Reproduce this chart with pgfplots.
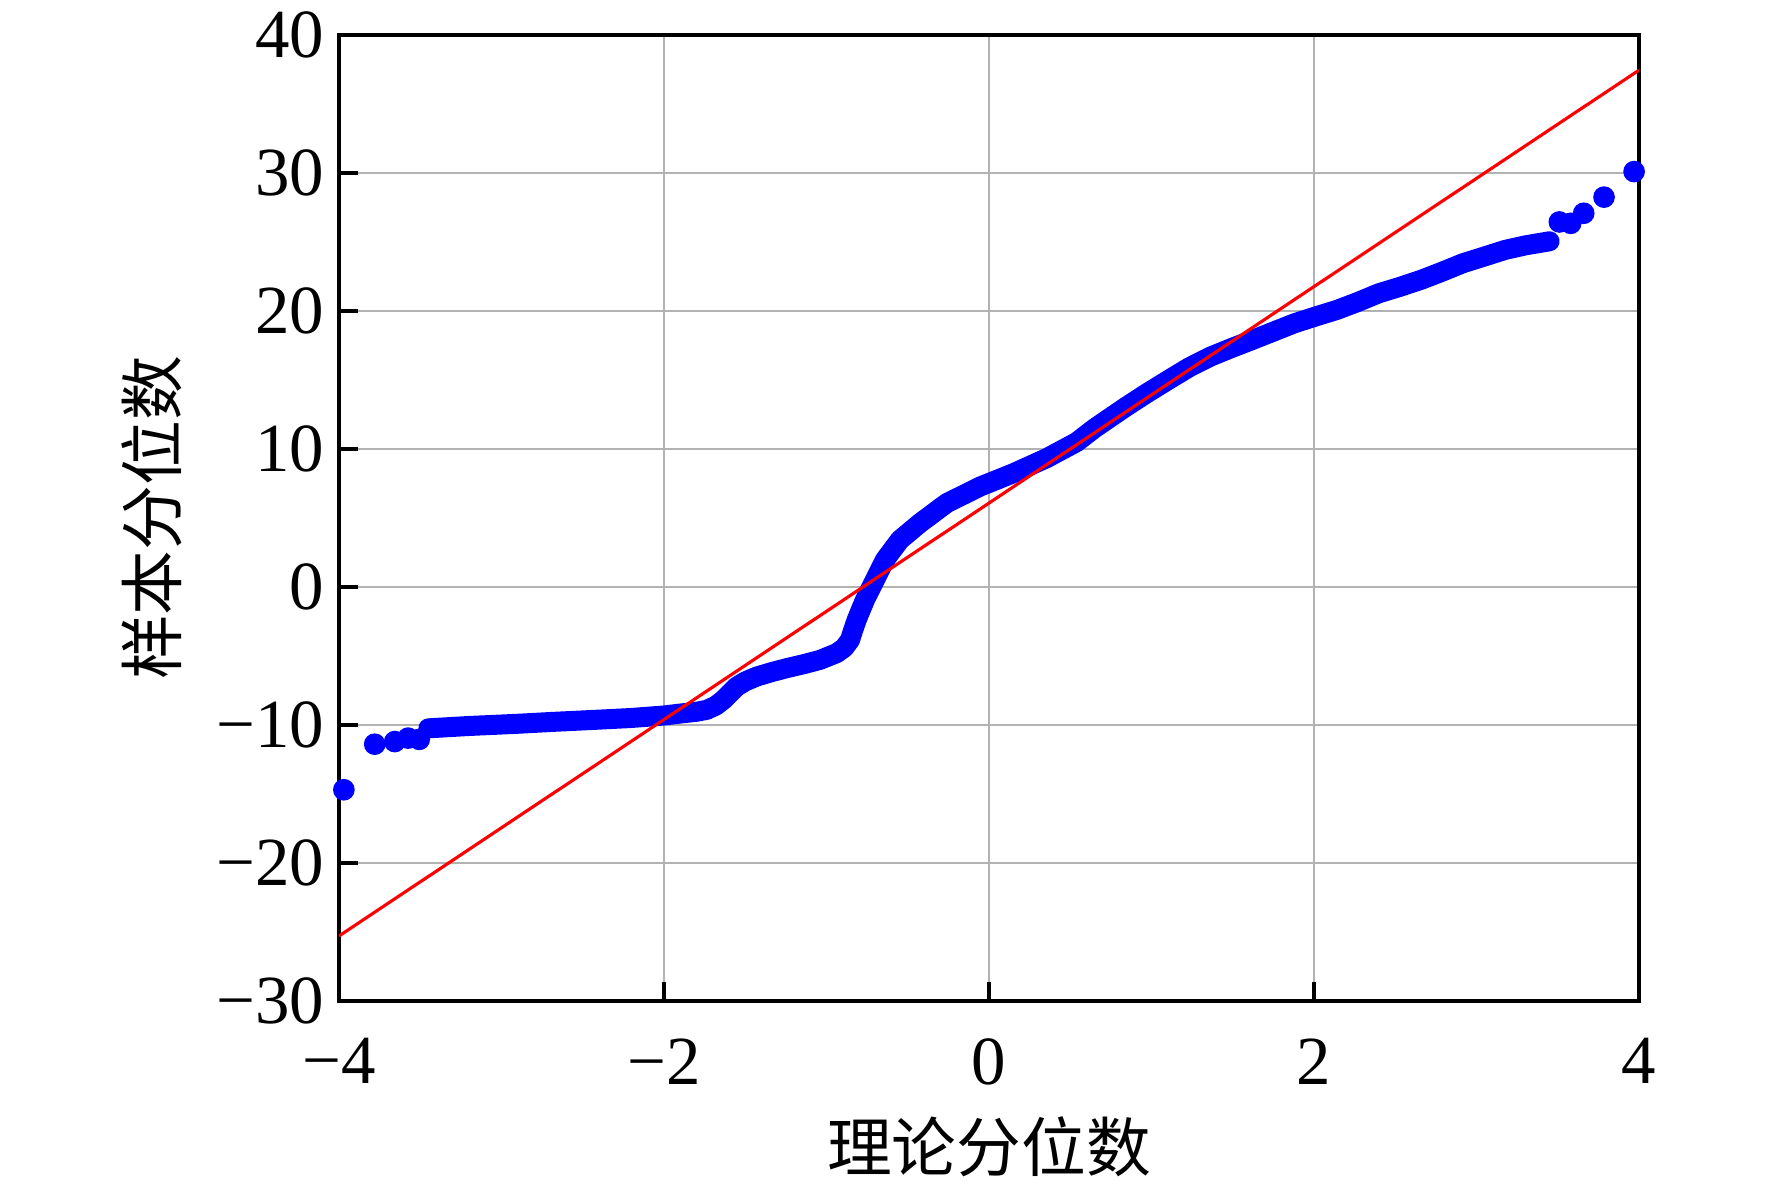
\documentclass[border=0pt]{standalone}
\usepackage{pgfplots}
\pgfplotsset{compat=1.18}
\usepackage{fontspec}
\setmainfont{Liberation Serif}
\newfontfamily\cjk{Noto Sans CJK SC}

\begin{document}
\begin{tikzpicture}
\path[use as bounding box] (-81.36bp,-45.36bp) rectangle (343.92bp,240.2bp);
\begin{axis}[
  at={(0,0)}, anchor=south west,
  width=312bp, height=231.8bp, scale only axis,
  xmin=-4, xmax=4, ymin=-30, ymax=40,
  xtick={-4,-2,0,2,4},
  xticklabels={\hbox{−4},\hbox{−2},\hbox{0},\hbox{2},\hbox{4}},
  ytick={-30,-20,-10,0,10,20,30,40},
  yticklabels={\hbox{−30},\hbox{−20},\hbox{−10},\hbox{0},\hbox{10},\hbox{20},\hbox{30},\hbox{40}},
  xtick pos=bottom, ytick pos=left,
  tick align=inside,
  major tick length=4.6bp,
  tick style={line width=0.85bp, black},
  axis line style={line width=0.85bp},
  grid=major,
  major grid style={line width=0.5bp, color=black!30},
  tick label style={font=\fontsize{16.6}{18}\selectfont},
  xticklabel style={yshift=-5.5bp},
  xlabel={\cjk 理论分位数},
  ylabel={\cjk 样本分位数},
  label style={font=\fontsize{15.6}{18}\selectfont},
  xlabel style={at={(axis description cs:0.5,-0.151)}, anchor=center},
  ylabel style={at={(axis description cs:-0.144,0.5)}, anchor=center},
]
\addplot[blue, line width=4.8bp, line cap=round, line join=round] table {
x y
-3.45 -10.25
-3.2 -10.08
-2.9 -9.92
-2.68 -9.78
-2.4 -9.62
-2.2 -9.5
-2.0 -9.32
-1.9 -9.18
-1.80 -9.05
-1.737 -8.91
-1.68 -8.6
-1.635 -8.19
-1.553 -7.23
-1.50 -6.85
-1.43 -6.5
-1.33 -6.15
-1.245 -5.89
-1.14 -5.6
-1.04 -5.29
-0.937 -4.8
-0.89 -4.4
-0.855 -3.84
-0.835 -3.1
-0.814 -2.39
-0.79 -1.7
-0.763 -0.94
-0.702 0.51
-0.64 1.96
-0.548 3.41
-0.425 4.62
-0.26 6.07
-0.055 7.27
0.15 8.24
0.355 9.33
0.54 10.5
0.65 11.5
0.845 13.07
0.98 14.1
1.104 15.0
1.23 15.9
1.363 16.69
1.49 17.3
1.622 17.9
1.75 18.5
1.881 19.11
2.01 19.6
2.14 20.07
2.27 20.65
2.399 21.28
2.53 21.75
2.658 22.25
2.79 22.85
2.917 23.46
3.05 23.95
3.175 24.42
3.3 24.75
3.45 25.05
};
\addplot[only marks, mark=*, blue, mark size=2.4bp] table {
x y
-3.97 -14.7
-3.78 -11.40
-3.657 -11.21
-3.575 -10.96
-3.506 -11.05
3.51 26.45
3.58 26.35
3.66 27.08
3.785 28.25
3.97 30.1
};
\addplot[red, line width=0.75bp] coordinates {(-4,-25.3) (4,37.45)};
\end{axis}
\end{tikzpicture}
\end{document}
